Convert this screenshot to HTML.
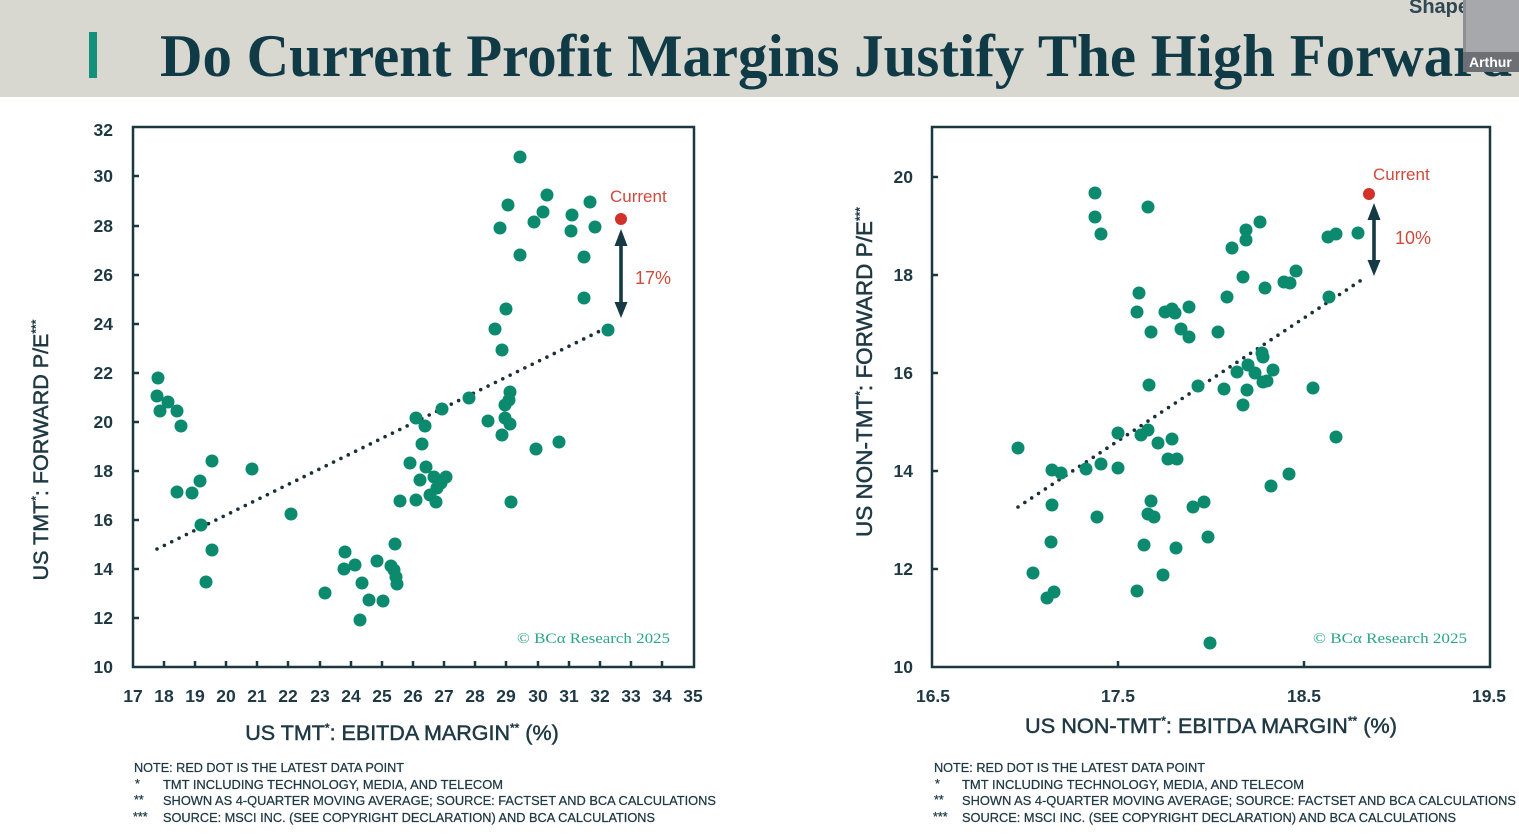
<!DOCTYPE html>
<html>
<head>
<meta charset="utf-8">
<style>
  html,body{margin:0;padding:0;background:#fff;}
  svg{display:block;}
</style>
</head>
<body>
<svg width="1519" height="835" viewBox="0 0 1519 835" xmlns="http://www.w3.org/2000/svg">
  <!-- header -->
  <rect x="0" y="0" width="1519" height="97" fill="#d8d7d0"/>
  <rect x="89" y="32" width="8" height="46" fill="#12907a"/>
  <text x="160" y="76" font-family="Liberation Serif, serif" font-weight="bold" font-size="60" fill="#0f3a46" textLength="1352" lengthAdjust="spacingAndGlyphs">Do Current Profit Margins Justify The High Forward</text>
  <text x="1409" y="13" font-family="Liberation Sans, sans-serif" font-weight="bold" font-size="20" fill="#2f4953">Shape</text>
  <rect x="1463" y="0" width="56" height="52" fill="#a6a8ab"/>
  <rect x="1463" y="0" width="3" height="52" fill="#8e9093"/>
  <rect x="1463" y="52" width="56" height="20" fill="#6c6f73"/>
  <text x="1469" y="67" font-family="Liberation Sans, sans-serif" font-weight="bold" font-size="14" fill="#ffffff">Arthur</text>

  <g font-family="Liberation Sans, sans-serif">
  <!-- ================= LEFT CHART ================= -->
  <rect x="133" y="127" width="561" height="540" fill="none" stroke="#1b3840" stroke-width="2.5"/>
  <g stroke="#1b3840" stroke-width="2.5">
    <line x1="133" y1="618" x2="139" y2="618"/>
    <line x1="133" y1="569" x2="139" y2="569"/>
    <line x1="133" y1="520" x2="139" y2="520"/>
    <line x1="133" y1="471" x2="139" y2="471"/>
    <line x1="133" y1="422" x2="139" y2="422"/>
    <line x1="133" y1="373" x2="139" y2="373"/>
    <line x1="133" y1="324" x2="139" y2="324"/>
    <line x1="133" y1="275" x2="139" y2="275"/>
    <line x1="133" y1="226" x2="139" y2="226"/>
    <line x1="133" y1="176" x2="139" y2="176"/>
    <line x1="164" y1="667" x2="164" y2="661"/>
    <line x1="195" y1="667" x2="195" y2="661"/>
    <line x1="226" y1="667" x2="226" y2="661"/>
    <line x1="257" y1="667" x2="257" y2="661"/>
    <line x1="288" y1="667" x2="288" y2="661"/>
    <line x1="320" y1="667" x2="320" y2="661"/>
    <line x1="351" y1="667" x2="351" y2="661"/>
    <line x1="382" y1="667" x2="382" y2="661"/>
    <line x1="413" y1="667" x2="413" y2="661"/>
    <line x1="444" y1="667" x2="444" y2="661"/>
    <line x1="475" y1="667" x2="475" y2="661"/>
    <line x1="506" y1="667" x2="506" y2="661"/>
    <line x1="538" y1="667" x2="538" y2="661"/>
    <line x1="569" y1="667" x2="569" y2="661"/>
    <line x1="600" y1="667" x2="600" y2="661"/>
    <line x1="631" y1="667" x2="631" y2="661"/>
    <line x1="662" y1="667" x2="662" y2="661"/>
  </g>
  <g font-size="17.5" font-weight="bold" fill="#1f3944" text-anchor="end">
    <text x="113" y="673">10</text>
    <text x="113" y="624">12</text>
    <text x="113" y="575">14</text>
    <text x="113" y="526">16</text>
    <text x="113" y="477">18</text>
    <text x="113" y="428">20</text>
    <text x="113" y="379">22</text>
    <text x="113" y="330">24</text>
    <text x="113" y="281">26</text>
    <text x="113" y="232">28</text>
    <text x="113" y="182">30</text>
    <text x="113" y="136">32</text>
  </g>
  <g font-size="17.5" font-weight="bold" fill="#1f3944" text-anchor="middle">
    <text x="133" y="702">17</text><text x="164" y="702">18</text><text x="195" y="702">19</text>
    <text x="226" y="702">20</text><text x="257" y="702">21</text><text x="288" y="702">22</text>
    <text x="320" y="702">23</text><text x="351" y="702">24</text><text x="382" y="702">25</text>
    <text x="413" y="702">26</text><text x="444" y="702">27</text><text x="475" y="702">28</text>
    <text x="506" y="702">29</text><text x="538" y="702">30</text><text x="569" y="702">31</text>
    <text x="600" y="702">32</text><text x="631" y="702">33</text><text x="662" y="702">34</text>
    <text x="693" y="702">35</text>
  </g>
  <text x="402" y="740" text-anchor="middle" font-size="21.5" fill="#1f3944" stroke="#1f3944" stroke-width="0.5">US TMT<tspan font-size="12" dy="-8">*</tspan><tspan dy="8">: EBITDA MARGIN</tspan><tspan font-size="12" dy="-8">**</tspan><tspan dy="8"> (%)</tspan></text>
  <text transform="translate(48,450) rotate(-90)" text-anchor="middle" font-size="21.5" fill="#1f3944" stroke="#1f3944" stroke-width="0.5">US TMT<tspan font-size="12" dy="-8">*</tspan><tspan dy="8">: FORWARD P/E</tspan><tspan font-size="12" dy="-8">***</tspan></text>

  <text x="517" y="643" font-family="Liberation Serif, serif" font-size="15" fill="#2ba589" textLength="153" lengthAdjust="spacingAndGlyphs">© BCα Research 2025</text>

  <line x1="157" y1="549" x2="608" y2="327" stroke="#1b2f36" stroke-width="3.6" stroke-linecap="round" stroke-dasharray="0 8.2"/>

  <g fill="#0b8a6d">
    <circle cx="158" cy="378" r="6.5"/><circle cx="157" cy="396" r="6.5"/><circle cx="168" cy="402" r="6.5"/>
    <circle cx="160" cy="411" r="6.5"/><circle cx="177" cy="411" r="6.5"/><circle cx="181" cy="426" r="6.5"/>
    <circle cx="177" cy="492" r="6.5"/><circle cx="192" cy="493" r="6.5"/><circle cx="200" cy="481" r="6.5"/>
    <circle cx="212" cy="461" r="6.5"/><circle cx="201" cy="525" r="6.5"/><circle cx="212" cy="550" r="6.5"/>
    <circle cx="206" cy="582" r="6.5"/><circle cx="252" cy="469" r="6.5"/><circle cx="291" cy="514" r="6.5"/>
    <circle cx="325" cy="593" r="6.5"/><circle cx="345" cy="552" r="6.5"/><circle cx="344" cy="569" r="6.5"/>
    <circle cx="355" cy="565" r="6.5"/><circle cx="362" cy="583" r="6.5"/><circle cx="369" cy="600" r="6.5"/>
    <circle cx="360" cy="620" r="6.5"/><circle cx="383" cy="601" r="6.5"/><circle cx="377" cy="561" r="6.5"/>
    <circle cx="391" cy="566" r="6.5"/><circle cx="394" cy="570" r="6.5"/><circle cx="396" cy="577" r="6.5"/>
    <circle cx="397" cy="584" r="6.5"/><circle cx="395" cy="544" r="6.5"/>
    <circle cx="400" cy="501" r="6.5"/><circle cx="416" cy="418" r="6.5"/><circle cx="422" cy="444" r="6.5"/>
    <circle cx="420" cy="480" r="6.5"/><circle cx="425" cy="426" r="6.5"/><circle cx="410" cy="463" r="6.5"/>
    <circle cx="416" cy="500" r="6.5"/><circle cx="426" cy="467" r="6.5"/><circle cx="430" cy="495" r="6.5"/>
    <circle cx="434" cy="477" r="6.5"/><circle cx="436" cy="502" r="6.5"/><circle cx="441" cy="483" r="6.5"/>
    <circle cx="446" cy="477" r="6.5"/><circle cx="437" cy="488" r="6.5"/><circle cx="442" cy="409" r="6.5"/>
    <circle cx="469" cy="398" r="6.5"/>
    <circle cx="488" cy="421" r="6.5"/><circle cx="495" cy="329" r="6.5"/><circle cx="500" cy="228" r="6.5"/>
    <circle cx="502" cy="350" r="6.5"/><circle cx="506" cy="309" r="6.5"/><circle cx="508" cy="205" r="6.5"/>
    <circle cx="520" cy="157" r="6.5"/><circle cx="520" cy="255" r="6.5"/><circle cx="502" cy="435" r="6.5"/>
    <circle cx="505" cy="418" r="6.5"/><circle cx="509" cy="400" r="6.5"/><circle cx="510" cy="392" r="6.5"/>
    <circle cx="505" cy="405" r="6.5"/><circle cx="510" cy="424" r="6.5"/><circle cx="511" cy="502" r="6.5"/>
    <circle cx="536" cy="449" r="6.5"/><circle cx="534" cy="222" r="6.5"/><circle cx="543" cy="212" r="6.5"/>
    <circle cx="547" cy="195" r="6.5"/><circle cx="559" cy="442" r="6.5"/><circle cx="572" cy="215" r="6.5"/>
    <circle cx="571" cy="231" r="6.5"/><circle cx="584" cy="257" r="6.5"/><circle cx="584" cy="298" r="6.5"/>
    <circle cx="590" cy="202" r="6.5"/><circle cx="595" cy="227" r="6.5"/><circle cx="608" cy="330" r="6.5"/>
  </g>
  <circle cx="621" cy="219" r="6" fill="#d3302a"/>
  <text x="610" y="202" font-size="17" fill="#cf4a3c">Current</text>
  <text x="635" y="284" font-size="18" fill="#cf4a3c">17%</text>
  <g fill="#163a44" stroke="none">
    <rect x="619.2" y="240" width="3.6" height="68"/>
    <polygon points="614.5,246 627.5,246 621,229"/>
    <polygon points="614.5,302 627.5,302 621,318"/>
  </g>

  <!-- ================= RIGHT CHART ================= -->
  <rect x="932" y="127" width="558" height="540" fill="none" stroke="#1b3840" stroke-width="2.5"/>
  <g stroke="#1b3840" stroke-width="2.5">
    <line x1="932" y1="569" x2="938" y2="569"/>
    <line x1="932" y1="471" x2="938" y2="471"/>
    <line x1="932" y1="373" x2="938" y2="373"/>
    <line x1="932" y1="275" x2="938" y2="275"/>
    <line x1="932" y1="177" x2="938" y2="177"/>
    <line x1="1118" y1="667" x2="1118" y2="661"/>
    <line x1="1304" y1="667" x2="1304" y2="661"/>
  </g>
  <g font-size="17.5" font-weight="bold" fill="#1f3944" text-anchor="end">
    <text x="913" y="673">10</text>
    <text x="913" y="575">12</text>
    <text x="913" y="477">14</text>
    <text x="913" y="379">16</text>
    <text x="913" y="281">18</text>
    <text x="913" y="183">20</text>
  </g>
  <g font-size="17.5" font-weight="bold" fill="#1f3944" text-anchor="middle">
    <text x="933" y="702">16.5</text>
    <text x="1118" y="702">17.5</text>
    <text x="1304" y="702">18.5</text>
    <text x="1489" y="702">19.5</text>
  </g>
  <text x="1211" y="733" text-anchor="middle" font-size="21.7" fill="#1f3944" stroke="#1f3944" stroke-width="0.5">US NON-TMT<tspan font-size="12" dy="-8">*</tspan><tspan dy="8">: EBITDA MARGIN</tspan><tspan font-size="12" dy="-8">**</tspan><tspan dy="8"> (%)</tspan></text>
  <text transform="translate(872,372) rotate(-90)" text-anchor="middle" font-size="22.5" fill="#1f3944" stroke="#1f3944" stroke-width="0.5">US NON-TMT<tspan font-size="12" dy="-8">*</tspan><tspan dy="8">: FORWARD P/E</tspan><tspan font-size="12" dy="-8">***</tspan></text>

  <text x="1313" y="643" font-family="Liberation Serif, serif" font-size="15" fill="#2ba589" textLength="154" lengthAdjust="spacingAndGlyphs">© BCα Research 2025</text>

  <line x1="1018" y1="507" x2="1363" y2="279" stroke="#1b2f36" stroke-width="3.6" stroke-linecap="round" stroke-dasharray="0 8.2"/>

  <g fill="#0b8a6d">
    <circle cx="1018" cy="448" r="6.5"/><circle cx="1033" cy="573" r="6.5"/><circle cx="1052" cy="505" r="6.5"/>
    <circle cx="1051" cy="542" r="6.5"/><circle cx="1047" cy="598" r="6.5"/><circle cx="1054" cy="592" r="6.5"/>
    <circle cx="1052" cy="470" r="6.5"/><circle cx="1061" cy="473" r="6.5"/><circle cx="1086" cy="469" r="6.5"/>
    <circle cx="1095" cy="193" r="6.5"/><circle cx="1095" cy="217" r="6.5"/><circle cx="1101" cy="234" r="6.5"/>
    <circle cx="1097" cy="517" r="6.5"/><circle cx="1101" cy="464" r="6.5"/><circle cx="1118" cy="468" r="6.5"/>
    <circle cx="1118" cy="433" r="6.5"/><circle cx="1139" cy="293" r="6.5"/><circle cx="1137" cy="312" r="6.5"/>
    <circle cx="1141" cy="435" r="6.5"/><circle cx="1148" cy="430" r="6.5"/><circle cx="1148" cy="207" r="6.5"/>
    <circle cx="1149" cy="385" r="6.5"/><circle cx="1151" cy="332" r="6.5"/><circle cx="1151" cy="501" r="6.5"/>
    <circle cx="1148" cy="514" r="6.5"/><circle cx="1154" cy="517" r="6.5"/><circle cx="1144" cy="545" r="6.5"/>
    <circle cx="1137" cy="591" r="6.5"/><circle cx="1158" cy="443" r="6.5"/><circle cx="1172" cy="439" r="6.5"/>
    <circle cx="1168" cy="459" r="6.5"/><circle cx="1177" cy="459" r="6.5"/><circle cx="1165" cy="312" r="6.5"/>
    <circle cx="1172" cy="309" r="6.5"/><circle cx="1175" cy="313" r="6.5"/><circle cx="1163" cy="575" r="6.5"/>
    <circle cx="1176" cy="548" r="6.5"/><circle cx="1181" cy="329" r="6.5"/>
    <circle cx="1189" cy="307" r="6.5"/><circle cx="1189" cy="337" r="6.5"/><circle cx="1193" cy="507" r="6.5"/>
    <circle cx="1204" cy="502" r="6.5"/><circle cx="1208" cy="537" r="6.5"/><circle cx="1210" cy="643" r="6.5"/>
    <circle cx="1198" cy="386" r="6.5"/><circle cx="1218" cy="332" r="6.5"/><circle cx="1224" cy="389" r="6.5"/>
    <circle cx="1227" cy="297" r="6.5"/><circle cx="1232" cy="248" r="6.5"/><circle cx="1246" cy="230" r="6.5"/>
    <circle cx="1246" cy="240" r="6.5"/><circle cx="1260" cy="222" r="6.5"/><circle cx="1243" cy="277" r="6.5"/>
    <circle cx="1237" cy="372" r="6.5"/><circle cx="1247" cy="390" r="6.5"/><circle cx="1243" cy="405" r="6.5"/>
    <circle cx="1248" cy="365" r="6.5"/><circle cx="1255" cy="373" r="6.5"/><circle cx="1262" cy="353" r="6.5"/>
    <circle cx="1263" cy="357" r="6.5"/><circle cx="1263" cy="382" r="6.5"/><circle cx="1267" cy="381" r="6.5"/>
    <circle cx="1265" cy="288" r="6.5"/><circle cx="1271" cy="486" r="6.5"/><circle cx="1273" cy="370" r="6.5"/>
    <circle cx="1284" cy="282" r="6.5"/><circle cx="1290" cy="283" r="6.5"/><circle cx="1289" cy="474" r="6.5"/>
    <circle cx="1296" cy="271" r="6.5"/><circle cx="1313" cy="388" r="6.5"/><circle cx="1329" cy="297" r="6.5"/>
    <circle cx="1336" cy="437" r="6.5"/><circle cx="1328" cy="237" r="6.5"/><circle cx="1336" cy="234" r="6.5"/>
    <circle cx="1358" cy="233" r="6.5"/>
  </g>
  <circle cx="1369" cy="194" r="6" fill="#d3302a"/>
  <text x="1373" y="180" font-size="17" fill="#cf4a3c">Current</text>
  <text x="1395" y="244" font-size="18" fill="#cf4a3c">10%</text>
  <g fill="#163a44" stroke="none">
    <rect x="1372.2" y="214" width="3.6" height="50"/>
    <polygon points="1367.5,220 1380.5,220 1374,203"/>
    <polygon points="1367.5,260 1380.5,260 1374,276"/>
  </g>

  <!-- ================= NOTES ================= -->
  <g font-size="12.5" fill="#1f3944" stroke="#1f3944" stroke-width="0.25">
    <text x="134" y="772" textLength="270" lengthAdjust="spacingAndGlyphs">NOTE: RED DOT IS THE LATEST DATA POINT</text>
    <text x="135" y="788">*</text>
    <text x="163" y="789" textLength="340" lengthAdjust="spacingAndGlyphs">TMT INCLUDING TECHNOLOGY, MEDIA, AND TELECOM</text>
    <text x="134" y="804">**</text>
    <text x="163" y="805" textLength="553" lengthAdjust="spacingAndGlyphs">SHOWN AS 4-QUARTER MOVING AVERAGE; SOURCE: FACTSET AND BCA CALCULATIONS</text>
    <text x="133" y="821">***</text>
    <text x="163" y="822" textLength="492" lengthAdjust="spacingAndGlyphs">SOURCE: MSCI INC. (SEE COPYRIGHT DECLARATION) AND BCA CALCULATIONS</text>

    <text x="934" y="772" textLength="271" lengthAdjust="spacingAndGlyphs">NOTE: RED DOT IS THE LATEST DATA POINT</text>
    <text x="935" y="788">*</text>
    <text x="962" y="789" textLength="342" lengthAdjust="spacingAndGlyphs">TMT INCLUDING TECHNOLOGY, MEDIA, AND TELECOM</text>
    <text x="934" y="804">**</text>
    <text x="962" y="805" textLength="554" lengthAdjust="spacingAndGlyphs">SHOWN AS 4-QUARTER MOVING AVERAGE; SOURCE: FACTSET AND BCA CALCULATIONS</text>
    <text x="933" y="821">***</text>
    <text x="962" y="822" textLength="494" lengthAdjust="spacingAndGlyphs">SOURCE: MSCI INC. (SEE COPYRIGHT DECLARATION) AND BCA CALCULATIONS</text>
  </g>
  </g>
</svg>
</body>
</html>
